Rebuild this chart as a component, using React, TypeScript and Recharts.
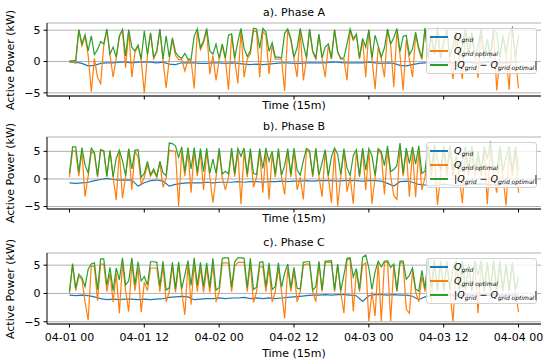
import { LineChart, Line, XAxis, YAxis, CartesianGrid } from 'recharts'

// time axis: 3 days, orange/green every 30 min, blue hourly (hours from 04-01 00)
const halfHours = Array.from({ length: 145 }, (_, i) => i / 2)
const hours = Array.from({ length: 73 }, (_, i) => i)
const timeTicks = [0, 12, 24, 36, 48, 60, 72]
const timeLabels = ['04-01 00', '04-01 12', '04-02 00', '04-02 12', '04-03 00', '04-03 12', '04-04 00']
const yTicks = [-5, 0, 5]

const gridA = [-0.1, -0.1, -0.3, -0.7, -0.6, -0.3, -0.2, -0.2, -0.1, -0.1,
  -0.2, -0.1, -0.1, -0.1, -0.2, -0.1, -0.4, -0.5, -0.2, -0.2,
  -0.2, -0.3, -0.3, -0.2, -0.2, -0.3, -0.2, -0.3, -0.4, -0.5,
  -0.4, -0.5, -0.4, -0.3, -0.2, -0.2, -0.3, -0.3, -0.2, -0.2,
  -0.2, -0.2, -0.1, -0.1, -0.2, -0.2, -0.2, -0.2, -0.1, -0.2,
  -0.3, -0.2, -0.3, -0.6, -0.7, -0.5, -0.3, -0.2, -0.2, -0.1,
  -0.1, -0.2, -0.2, -0.1, -0.1, -0.2, -0.2, -0.1, -0.1, -0.2,
  -0.2, -0.1, -0.1]
const optimalA = [0, 0, -0.3, 5.0, 2.5, 4.0, 1.0, -4.8, 0.5, -2.5,
  -3.5, 2.5, 5.0, 1.0, -2.5, 0.5, 4.0, 5.0, -1.0, 5.0,
  -2.5, 1.5, 2.5, 0.3, -5.0, 1.0, 4.5, 0.5, 1.5, 5.0,
  0.3, -4.2, 0.3, 3.4, 1.0, 0.3, 0.3, -1.5, 0.2, 0.2,
  -4.3, 5.0, 1.9, 3.0, 5.0, -2.0, 1.0, -3.0, 0.3, 2.6,
  0.3, -4.5, 4.2, 0.3, -3.5, 5.0, -2.5, 0.4, 1.2, 4.8,
  4.8, -2.5, 4.8, 4.2, -2.0, 2.6, 0.4, 0.4, 0.4, -4.7,
  5.0, 3.4, 0.4, -2.5, 5.0, -3.0, 0.4, 5.0, 1.5, 0.4,
  4.2, 0.4, -2.5, 2.6, 0.4, 5.0, 1.5, 0.4, 0.4, -3.0,
  5.0, 3.4, 4.2, 0.4, 3.5, -2.5, 5.0, 0.4, -4.4, 2.3,
  0.4, -2.5, 5.0, 2.6, -4.1, 5.0, 1.0, -4.6, 3.5, 0.4,
  -2.5, 4.2, 1.9, 0.3, 5.2, 0.5, 4.0, 1.0, 5.3, 0.5,
  3.0, 5.0, 0.5, -2.8, 4.5, 0.5, -2.8, 5.0, 1.0, 4.5,
  0.5, -2.6, 5.0, 0.5, 3.5, 0.5, 5.0, -4.6, 0.5, 4.0,
  1.0, -4.5, 5.3, 0.5, -4.3]
const diffA = [0.1, 0.1, 0.2, 5.1, 2.8, 4.3, 1.7, 4.1, 1.1, 1.9,
  3.2, 2.8, 5.2, 1.2, 2.3, 0.7, 4.1, 5.1, 0.9, 5.1,
  2.3, 1.7, 2.6, 0.4, 4.9, 1.1, 4.6, 0.6, 1.7, 5.2,
  0.4, 4.1, 0.7, 3.8, 1.5, 0.8, 0.5, 1.3, 0.4, 0.4,
  4.1, 5.2, 2.2, 3.3, 5.3, 1.7, 1.2, 2.8, 0.5, 2.8,
  0.6, 4.2, 4.4, 0.5, 3.2, 5.3, 2.1, 0.8, 1.7, 5.3,
  5.2, 2.1, 5.3, 4.7, 1.6, 3.0, 0.7, 0.7, 0.6, 4.5,
  5.2, 3.6, 0.7, 2.2, 5.3, 2.7, 0.6, 5.2, 1.7, 0.6,
  4.4, 0.6, 2.3, 2.8, 0.5, 5.1, 1.6, 0.5, 0.6, 2.8,
  5.2, 3.6, 4.4, 0.6, 3.7, 2.3, 5.1, 0.5, 4.2, 2.5,
  0.7, 2.2, 5.2, 2.8, 3.8, 5.3, 1.6, 4.0, 4.2, 1.1,
  2.0, 4.7, 2.2, 0.6, 5.4, 0.7, 4.2, 1.2, 5.4, 0.6,
  3.1, 5.1, 0.7, 2.6, 4.7, 0.7, 2.7, 5.1, 1.1, 4.6,
  0.7, 2.4, 5.2, 0.7, 3.6, 0.6, 5.1, 4.5, 0.7, 4.2,
  1.2, 4.3, 5.4, 0.6, 4.2]

const gridB = [-0.7, -0.8, -0.7, -0.6, -0.3, -0.1, 0.1, -0.1, -0.2, -0.2,
  -0.2, -1.3, -0.7, -0.3, -0.2, -0.4, -1.3, -1.0, -0.8, -0.7,
  -0.7, -0.7, -0.6, -0.7, -0.6, -0.6, -0.6, -0.5, -0.6, -0.5,
  -0.5, -0.6, -0.5, -0.5, -0.4, -0.5, -0.4, -0.4, -0.3, -0.4,
  -0.3, -0.3, -0.3, -0.4, -0.3, -0.3, -0.3, -0.4, -0.3, -0.3,
  -0.4, -0.8, -1.3, -0.5, -0.4, -0.6, -1.0, -1.1, -1.2, -1.1,
  -1.0, -1.1, -1.2, -1.1, -1.0, -1.0, -0.9, -1.0, -1.1, -1.0,
  -0.9, -1.0, -1.0]
const optimalB = [0.3, 5.1, 5.0, 0.5, 5.0, -3.2, 0.5, 5.0, 4.5, 0.3,
  5.2, 5.0, 0.5, 5.2, 0.3, -3.8, 5.0, -3.5, 0.4, 5.3,
  -2.0, 5.0, 4.0, -1.0, 0.3, 2.5, 0.5, 1.5, 0.3, 3.0,
  -1.5, 0.2, 5.2, 5.1, 5.0, -4.9, 5.0, 0.5, 5.0, -2.5,
  5.0, 0.5, 4.8, -2.0, 5.0, 0.4, -4.3, 0.3, 5.0, 0.3,
  -2.0, 0.3, 5.0, 0.4, 5.0, -4.6, 5.0, 0.3, 5.0, -1.5,
  0.3, 5.0, -2.5, 5.0, -3.7, 4.5, 0.3, 5.0, 0.3, -2.8,
  5.0, 0.3, 5.2, -2.0, 0.3, -3.7, 5.2, 4.8, 0.3, 5.2,
  0.4, -3.2, 5.0, 0.3, -4.3, 5.3, -4.9, 0.4, 5.2, -2.3,
  0.3, -4.5, 5.0, 0.3, 5.2, -2.0, 5.2, -4.5, 0.3, 5.2,
  4.5, -2.8, 5.2, 0.5, -3.0, -3.7, 6.0, 0.5, 5.2, -3.2,
  5.2, -3.3, 5.0, -2.0, 0.3, 5.0, 0.4, 5.0, -4.7, 0.5,
  5.0, 0.5, 5.0, 0.5, 3.0, 0.4, -4.4, 4.8, 0.5, 5.0,
  0.4, 4.0, 0.5, 5.0, -4.6, 5.8, 0.5, -2.5, 5.0, 0.5,
  -4.8, 5.0, 0.5, 4.8, -2.5]
const diffB = [1.0, 5.8, 5.8, 1.3, 5.7, 2.5, 1.1, 5.6, 4.8, 0.6,
  5.3, 5.1, 0.4, 5.1, 0.4, 3.7, 5.2, 3.3, 0.6, 5.5,
  1.8, 5.2, 5.3, 0.3, 1.0, 3.2, 0.8, 1.8, 0.5, 3.2,
  1.1, 0.6, 6.5, 6.4, 6.0, 3.9, 5.8, 1.3, 5.7, 1.8,
  5.7, 1.2, 5.5, 1.3, 5.6, 1.0, 3.6, 1.0, 5.6, 0.9,
  1.4, 0.9, 5.6, 1.0, 5.5, 4.1, 5.6, 0.9, 5.5, 1.0,
  0.8, 5.5, 1.9, 5.6, 3.2, 5.0, 0.8, 5.5, 0.7, 2.4,
  5.5, 0.8, 5.6, 1.6, 0.7, 3.3, 5.5, 5.1, 0.7, 5.6,
  0.7, 2.9, 5.3, 0.6, 4.0, 5.6, 4.5, 0.8, 5.5, 2.0,
  0.6, 4.2, 5.3, 0.6, 5.6, 1.6, 5.5, 4.2, 0.6, 5.5,
  4.9, 2.4, 6.0, 1.3, 1.7, 2.4, 6.5, 1.0, 5.6, 2.8,
  5.8, 2.7, 6.0, 1.0, 1.4, 6.1, 1.6, 6.2, 3.6, 1.6,
  6.0, 1.5, 6.1, 1.6, 4.2, 1.6, 3.3, 5.9, 1.5, 6.0,
  1.4, 5.0, 1.4, 5.9, 3.6, 6.8, 1.6, 1.4, 6.0, 1.5,
  3.9, 5.9, 1.5, 5.8, 1.5]

const gridC = [-0.3, -0.4, -0.3, -0.4, -0.6, -0.9, -1.1, -1.0, -1.1, -1.0,
  -1.0, -1.1, -1.0, -1.1, -1.0, -0.9, -0.7, -0.6, -0.5, -0.6,
  -1.1, -1.0, -0.9, -0.9, -0.8, -0.9, -0.8, -0.8, -0.7, -0.9,
  -0.8, -0.9, -0.8, -0.9, -0.8, -0.7, -0.6, -0.5, -0.4, -0.3,
  -0.3, -0.2, -0.3, -0.2, -0.2, -0.3, -0.4, -1.4, -0.4, -0.2,
  -0.2, -0.3, -0.2, -0.3, -0.3, -0.5, -1.1, -0.6, -0.4, -0.3,
  -0.3, -0.3, -0.3, -0.3, -0.3, -0.3, -0.3, -0.3, -0.3, -0.3,
  -0.3, -0.3, -0.3]
const optimalC = [0.0, 5.0, 0.5, 3.0, 2.5, -1.5, -4.7, 4.8, 4.8, -1.3,
  5.2, 5.2, 0.3, 3.5, -1.5, 3.5, -3.5, 5.2, 0.5, -3.2,
  5.3, 0.5, 4.5, -3.3, 2.0, 0.5, 4.5, 4.5, 4.5, 0.3,
  4.8, -1.5, 0.3, 4.8, 0.2, 5.0, 0.3, -3.8, 5.2, -2.0,
  5.2, 0.3, 4.5, 0.2, 4.5, 0.2, 5.3, -1.5, 0.2, 5.4,
  5.4, 5.4, 0.3, 4.8, 5.5, 5.5, 5.5, 0.3, 5.3, -1.6,
  0.3, 4.7, 4.7, 0.3, 4.6, -1.5, 0.3, 4.5, 0.3, -4.4,
  4.5, 0.3, 4.0, -1.5, 0.3, 5.0, 5.2, 5.2, 0.3, -1.5,
  5.4, 0.3, 5.5, 5.5, 5.5, 0.3, 5.0, 0.2, -3.5, 6.0,
  6.0, -3.2, 4.0, 0.3, 5.0, 5.4, -4.9, 0.3, -4.0, 5.5,
  -4.9, 5.5, 5.5, -4.9, 5.0, 0.3, 5.4, 5.4, -2.8, -3.5,
  4.0, 0.3, -1.5, 3.0, 0.3, 5.5, -1.5, 5.5, 0.3, 5.5,
  0.3, 5.5, 0.3, -5.0, 5.5, 0.3, 5.5, 0.5, 5.0, 0.3,
  5.5, -3.5, 5.5, 0.3, 5.2, 0.3, 5.5, -1.0, 5.5, 0.3,
  5.0, 0.3, 5.2, 0.3, -3.3]
const diffC = [0.3, 5.3, 0.9, 3.4, 2.8, 1.2, 4.3, 5.2, 5.4, 0.7,
  6.1, 6.1, 1.4, 4.6, 0.5, 4.5, 2.4, 6.3, 1.5, 2.2,
  6.3, 1.5, 5.6, 2.2, 3.0, 1.5, 5.6, 5.6, 5.5, 1.3,
  5.7, 0.6, 1.0, 5.5, 0.8, 5.6, 0.8, 3.3, 5.8, 1.4,
  6.3, 1.4, 5.5, 1.2, 5.4, 1.1, 6.2, 0.6, 1.0, 6.2,
  6.3, 6.3, 1.1, 5.6, 6.3, 6.3, 6.2, 1.0, 6.2, 0.7,
  1.1, 5.5, 5.6, 1.2, 5.4, 0.7, 1.2, 5.4, 1.1, 3.6,
  5.2, 1.0, 4.6, 0.9, 0.8, 5.5, 5.6, 5.6, 0.6, 1.2,
  5.7, 0.6, 5.7, 5.7, 5.8, 0.6, 5.2, 0.4, 3.3, 6.2,
  6.3, 2.9, 4.4, 0.7, 6.4, 6.8, 4.5, 0.7, 3.8, 5.7,
  4.7, 5.7, 5.8, 4.6, 5.2, 0.5, 5.7, 5.7, 2.5, 3.2,
  4.5, 0.8, 0.4, 4.1, 0.9, 6.1, 1.1, 5.9, 0.6, 5.8,
  0.6, 5.8, 0.6, 4.7, 5.8, 0.6, 5.8, 0.8, 5.3, 0.6,
  5.8, 3.2, 5.8, 0.6, 5.5, 0.6, 5.8, 0.7, 5.8, 0.6,
  5.3, 0.6, 5.5, 0.6, 3.0]

const FONT = '"DejaVu Sans", sans-serif'
const W = 550
const PLOT_LEFT = 47
const PLOT_RIGHT = 541
const BLUE = '#1f77b4'
const ORANGE = '#ff7f0e'
const GREEN = '#2ca02c'

const panels = [
  { title: 'a). Phase A', plotTop: 23, plotH: 73, domain: [-5.5, 6.15], grid: gridA, optimal: optimalA, diff: diffA, dates: false },
  { title: 'b). Phase B', plotTop: 137, plotH: 72, domain: [-5.45, 7.6], grid: gridB, optimal: optimalB, diff: diffB, dates: false },
  { title: 'c). Phase C', plotTop: 253, plotH: 71, domain: [-5.4, 7.15], grid: gridC, optimal: optimalC, diff: diffC, dates: true },
]

const Q = ({ sub }: { sub: string }) => (
  <span style={{ fontStyle: 'italic' }}>
    Q<span style={{ fontSize: 6, position: 'relative', top: 2 }}>{sub}</span>
  </span>
)

function Legend({ top }: { top: number }) {
  const rows = [
    { color: BLUE, text: <Q sub="grid" /> },
    { color: ORANGE, text: <Q sub="grid optimal" /> },
    { color: GREEN, text: <span>|<Q sub="grid" /> − <Q sub="grid optimal" />|</span> },
  ]
  return (
    <div style={{ position: 'absolute', left: 426, top, width: 111, height: 46, boxSizing: 'border-box', border: '1px solid #d0d0d0', borderRadius: 3, background: 'rgba(255,255,255,0.8)', zIndex: 10 }}>
      {rows.map((r, i) => (
        <div key={i}>
          <div style={{ position: 'absolute', left: 3, top: 7 + i * 14, width: 18, height: 1.5, background: r.color }} />
          <div style={{ position: 'absolute', left: 27, top: 1 + i * 14, height: 14, lineHeight: '14px', fontSize: 9.5, fontFamily: FONT, whiteSpace: 'nowrap', color: '#000' }}>
            {r.text}
          </div>
        </div>
      ))}
    </div>
  )
}

function Panel({ p }: { p: typeof panels[0] }) {
  const marginTop = 23
  const axisH = p.dates ? 24 : 8
  const chartTop = p.plotTop - marginTop
  const chartH = marginTop + p.plotH + axisH
  const rows = halfHours.map((h, i) => ({ h, optimal: p.optimal[i], diff: p.diff[i] }))
  const blueRows = hours.map((h, i) => ({ h, grid: p.grid[i] }))
  const center = (PLOT_LEFT + PLOT_RIGHT) / 2
  const xLabelY = p.dates ? p.plotTop + p.plotH + 30 : p.plotTop + p.plotH + 9.5
  const textStyle = { position: 'absolute' as const, fontFamily: FONT, fontSize: 11, color: '#000', whiteSpace: 'nowrap' as const, height: 14, lineHeight: '14px' }

  return (
    <>
      <div style={{ ...textStyle, left: center - 100, width: 200, textAlign: 'center', top: p.plotTop - 10.5 - 7 }}>{p.title}</div>
      <div style={{ ...textStyle, left: center - 100, width: 200, textAlign: 'center', top: xLabelY - 7 }}>Time (15m)</div>
      <div style={{ ...textStyle, left: 11 - 60, width: 120, textAlign: 'center', top: p.plotTop + p.plotH / 2 - 7, transform: 'rotate(-90deg)' }}>Active Power (kW)</div>
      <div style={{ position: 'absolute', left: 0, top: chartTop, width: W, height: chartH, zIndex: 0 }}>
        <LineChart width={W} height={chartH} data={rows} margin={{ top: marginTop, right: W - PLOT_RIGHT, bottom: 0, left: 0 }}>
          <CartesianGrid horizontal vertical={false} stroke="#b0b0b0" strokeWidth={1} />
          <XAxis
            dataKey="h" type="number" domain={[-3.6, 75.6]} allowDataOverflow ticks={timeTicks}
            height={axisH} stroke="#000" tickSize={3.5} tickMargin={6}
            tick={{ fill: '#000', fontSize: 11, fontFamily: FONT }}
            tickFormatter={(v: number) => (p.dates ? timeLabels[timeTicks.indexOf(v)] : '')}
          />
          <XAxis xAxisId="top" orientation="top" dataKey="h" type="number" domain={[-3.6, 75.6]} allowDataOverflow height={0} tick={false} tickLine={false} stroke="#000" />
          <YAxis
            type="number" domain={p.domain} allowDataOverflow ticks={yTicks} width={PLOT_LEFT}
            stroke="#000" tickSize={3.5} tickMargin={3}
            tick={{ fill: '#000', fontSize: 11, fontFamily: FONT }}
            tickFormatter={(v: number) => (v < 0 ? '−' + Math.abs(v) : String(v))}
          />
          <YAxis yAxisId="right" orientation="right" type="number" domain={p.domain} allowDataOverflow width={0} tick={false} tickLine={false} stroke="#000" />
          <Line data={blueRows} dataKey="grid" stroke={BLUE} strokeWidth={1.2} dot={false} isAnimationActive={false} />
          <Line dataKey="optimal" stroke={ORANGE} strokeWidth={1.2} dot={false} isAnimationActive={false} />
          <Line dataKey="diff" stroke={GREEN} strokeWidth={1.2} dot={false} isAnimationActive={false} />
        </LineChart>
      </div>
      <Legend top={p.plotTop + 5} />
    </>
  )
}

export default function App() {
  return (
    <div style={{ position: 'absolute', left: 0, top: 0, width: W, height: 360, overflow: 'hidden', background: '#fff' }}>
      {panels.map((p, i) => <Panel key={i} p={p} />)}
    </div>
  )
}
